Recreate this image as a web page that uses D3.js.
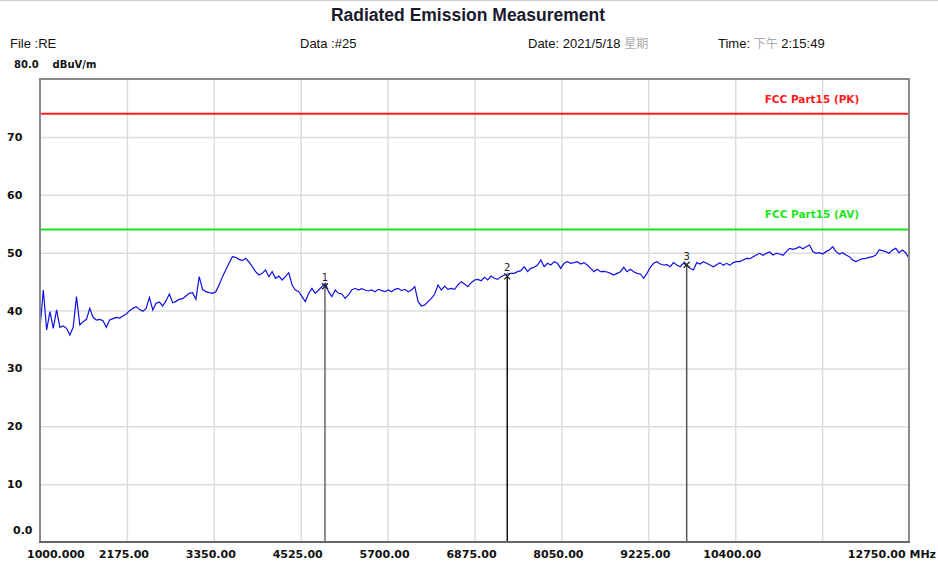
<!DOCTYPE html>
<html>
<head>
<meta charset="utf-8">
<script src="https://cdn.jsdelivr.net/npm/d3@7"></script>
<style>
  body { margin: 0; background: #fff; }
  svg { display: block; }
</style>
</head>
<body>
<div id="chart"></div>
<script>
// sweep range, MHz
var sweepStart = 1000, sweepStop = 12750;

var levels = [
  36.92, 43.54, 36.63, 39.80, 36.92, 40.09, 37.09, 37.32, 36.92, 35.77,
  37.09, 42.39, 37.49, 38.07, 38.47, 40.37, 38.82, 38.36, 38.47, 38.24,
  37.09, 38.36, 38.59, 38.82, 38.70, 39.05, 39.40, 39.97, 40.37, 40.66,
  40.20, 39.86, 40.37, 42.27, 40.09, 41.24, 41.47, 40.78, 41.70, 42.85,
  41.35, 41.58, 41.93, 42.04, 42.51, 42.97, 43.08, 41.93, 45.85, 43.66,
  43.25,
  43.08, 42.97, 43.25, 44.41, 45.85, 47.00, 48.15, 49.30, 49.19, 48.84,
  48.61, 49.01, 48.38, 47.57, 46.71, 46.13, 46.42, 47.00, 45.85, 46.71,
  45.56, 45.96, 45.27, 45.85, 46.54, 44.41, 43.54, 43.25, 42.39, 41.53,
  42.97, 43.83, 42.97, 43.54, 44.12, 44.69, 43.25, 42.39, 43.54, 42.97,
  42.85, 42.10, 42.68, 43.54, 43.83, 43.54, 43.77, 43.54, 43.37, 43.54,
  43.25, 43.66, 43.43, 43.25,
  43.54, 43.25, 43.66, 43.83, 43.43, 43.66, 43.25, 43.54, 44.12, 41.53,
  40.78, 40.95, 41.53, 42.10, 42.85, 44.41, 43.54, 44.23, 43.66, 43.83,
  43.66, 44.41, 44.98, 44.58, 44.12, 44.81, 45.27, 45.38, 45.15, 45.73,
  45.27, 45.96, 45.56, 45.38, 45.85, 46.13, 46.31, 46.42, 46.42, 46.71,
  46.88, 47.57, 46.71, 47.29, 47.46, 47.86, 48.73, 47.57, 48.15, 47.86,
  48.44, 48.15, 47.29,
  48.15, 48.44, 48.15, 48.27, 48.44, 48.03, 48.27, 47.86, 47.29, 46.71,
  47.11, 46.71, 46.77, 46.65, 46.42, 46.13, 46.42, 46.71, 47.46, 46.71,
  47.11, 46.71, 46.42, 46.31, 45.56, 46.42, 47.46, 48.15, 48.44, 48.03,
  47.86, 47.92, 47.57, 48.27, 47.86, 47.57, 48.15, 47.86, 47.29, 47.00,
  48.27, 48.03, 48.44, 48.15, 47.86, 47.57, 47.92, 48.27, 47.80, 48.15,
  47.80, 48.27, 48.44,
  48.44, 48.73, 49.01, 48.96, 49.30, 49.59, 49.88, 49.53, 49.88, 50.11,
  49.59, 49.88, 49.76, 49.53, 50.17, 50.74, 50.57, 50.74, 51.03, 50.68,
  51.03, 51.32, 50.17, 49.88, 49.99, 49.76, 50.17, 50.45, 51.03, 50.17,
  49.76, 49.99, 49.59, 49.30, 48.73, 48.44, 48.73, 48.96, 49.01, 49.19,
  49.30, 49.59, 50.45, 50.34, 50.17, 49.88, 50.45, 50.74, 49.99, 50.45,
  49.99, 49.01
];

// limit lines
var limitNames = ["FCC Part15 (PK)", "FCC Part15 (AV)"];
var limitValues = [74, 54];
var limitColors = ["#ff1a1a", "#19e619"];

// markers
var markerIds = ["1", "2", "3"];
var markerFreqs = [4853, 7318, 9744];
var markerLevels = [44.2, 45.9, 47.9];
var markerColors = ["#666", "#111", "#555"];

// axes
var xTicks = [1000, 2175, 3350, 4525, 5700, 6875, 8050, 9225, 10400, 11575, 12750];
var xTickLabels = ["1000.000", "2175.00", "3350.00", "4525.00", "5700.00", "6875.00",
                   "8050.00", "9225.00", "10400.00", "", "12750.00 MHz"];
var yTicks = [0, 10, 20, 30, 40, 50, 60, 70];
var yTickLabels = ["0.0", "10", "20", "30", "40", "50", "60", "70"];

var W = 938, H = 565;
var plot = {left: 40, right: 909, top: 79, bottom: 542};

var svg = d3.select("#chart").append("svg")
    .attr("width", W)
    .attr("height", H);

var x = d3.scaleLinear().domain([sweepStart, sweepStop]).range([plot.left, plot.right]);
var y = d3.scaleLinear().domain([0, 80]).range([plot.bottom, plot.top]);

var smallFont = "'DejaVu Sans', sans-serif";
var headFont = "'Liberation Sans', Arial, sans-serif";

// faint rule at the very top
svg.append("line")
    .attr("x1", 0).attr("x2", W).attr("y1", 0.5).attr("y2", 0.5)
    .attr("stroke", "#ccc");

// title + header row
svg.append("text")
    .attr("x", 468).attr("y", 21)
    .attr("text-anchor", "middle")
    .style("font-family", headFont)
    .style("font-size", "17.5px")
    .style("font-weight", "bold")
    .attr("fill", "#1a1a2e")
    .text("Radiated Emission Measurement");

var head = svg.append("g")
    .style("font-family", headFont)
    .style("font-size", "13px")
    .attr("fill", "#111");
head.append("text").attr("x", 10).attr("y", 48).text("File :RE");
head.append("text").attr("x", 300).attr("y", 48).text("Data :#25");
var dt = head.append("text").attr("x", 528).attr("y", 48);
dt.append("tspan").text("Date: 2021/5/18 ");
dt.append("tspan").attr("fill", "#aaa").style("font-family", "'Noto Sans CJK TC', sans-serif").style("font-size", "12px").text("星期");
var tm = head.append("text").attr("x", 718).attr("y", 48);
tm.append("tspan").text("Time: ");
tm.append("tspan").attr("fill", "#aaa").style("font-family", "'Noto Sans CJK TC', sans-serif").style("font-size", "12px").text("下午");
tm.append("tspan").text(" 2:15:49");

svg.append("text")
    .attr("x", 14).attr("y", 68)
    .style("font-family", smallFont)
    .style("font-size", "10px")
    .style("font-weight", "bold")
    .attr("fill", "#111")
    .attr("xml:space", "preserve")
    .text("80.0    dBuV/m");

// grid
svg.append("g")
    .attr("transform", "translate(0," + plot.bottom + ")")
    .call(d3.axisBottom(x).tickValues(xTicks.slice(1, -1)).tickSize(-(plot.bottom - plot.top)).tickFormat(""))
    .call(function(g) { g.select(".domain").remove(); })
    .selectAll("line").attr("stroke", "#dcdcdc").attr("stroke-width", 1.5);

svg.append("g")
    .attr("transform", "translate(" + plot.left + ",0)")
    .call(d3.axisLeft(y).tickValues(yTicks.slice(1)).tickSize(-(plot.right - plot.left)).tickFormat(""))
    .call(function(g) { g.select(".domain").remove(); })
    .selectAll("line").attr("stroke", "#dcdcdc").attr("stroke-width", 1.5);

// x tick labels
svg.append("g")
    .selectAll("text")
    .data(xTicks)
    .join("text")
    .attr("x", function(d, i) {
        if (i == 0) return 27;
        if (i == xTicks.length - 1) return 936;
        return x(d) - 3;
    })
    .attr("y", 558)
    .attr("text-anchor", function(d, i) {
        if (i == 0) return "start";
        if (i == xTicks.length - 1) return "end";
        return "middle";
    })
    .style("font-family", smallFont)
    .style("font-size", "11px")
    .style("font-weight", "bold")
    .attr("fill", "#111")
    .text(function(d, i) { return xTickLabels[i]; });

// y tick labels
svg.append("g")
    .selectAll("text")
    .data(yTicks)
    .join("text")
    .attr("x", function(d) { return d == 0 ? 13 : 7; })
    .attr("y", function(d) { return d == 0 ? y(d) - 8 : y(d) + 4; })
    .style("font-family", smallFont)
    .style("font-size", "11px")
    .style("font-weight", "bold")
    .attr("fill", "#111")
    .text(function(d, i) { return yTickLabels[i]; });

// limit lines
limitValues.forEach(function(v, i) {
    svg.append("line")
        .attr("x1", plot.left).attr("x2", plot.right)
        .attr("y1", y(v)).attr("y2", y(v))
        .attr("stroke", limitColors[i])
        .attr("stroke-width", 2);
    svg.append("text")
        .attr("x", 812).attr("y", y(v) - 11)
        .attr("text-anchor", "middle")
        .style("font-family", smallFont)
        .style("font-size", "10.5px")
        .style("font-weight", "bold")
        .attr("fill", limitColors[i])
        .text(limitNames[i]);
});

// trace
var step = (sweepStop - sweepStart) / (levels.length - 1);
var trace = levels.map(function(v, i) { return {f: sweepStart + i * step, v: v}; });

svg.append("path")
    .datum(trace)
    .attr("fill", "none")
    .attr("stroke", "#1010e0")
    .attr("stroke-width", 1.2)
    .attr("d", d3.line()
        .x(function(d) { return x(d.f); })
        .y(function(d) { return y(d.v); }));

// markers
markerFreqs.forEach(function(f, i) {
    var mx = x(f), my = y(markerLevels[i]);
    svg.append("line")
        .attr("x1", mx).attr("x2", mx)
        .attr("y1", my).attr("y2", plot.bottom)
        .attr("stroke", markerColors[i])
        .attr("stroke-width", 1.5);
    // small cross at the marker point
    svg.append("path")
        .attr("d", "M" + (mx - 3) + "," + (my - 3) + "L" + (mx + 3) + "," + (my + 3) +
                   "M" + (mx - 3) + "," + (my + 3) + "L" + (mx + 3) + "," + (my - 3))
        .attr("stroke", "#222")
        .attr("stroke-width", 1.3);
    svg.append("text")
        .attr("x", mx).attr("y", my - 5)
        .attr("text-anchor", "middle")
        .style("font-family", smallFont)
        .style("font-size", "10px")
        .attr("fill", "#222")
        .text(markerIds[i]);
});

// frame
svg.append("rect")
    .attr("x", plot.left).attr("y", plot.top)
    .attr("width", plot.right - plot.left)
    .attr("height", plot.bottom - plot.top)
    .attr("fill", "none")
    .attr("stroke", "#8a8a8a")
    .attr("stroke-width", 2);
svg.append("line")
    .attr("x1", plot.left - 1).attr("x2", plot.right + 1)
    .attr("y1", plot.bottom).attr("y2", plot.bottom)
    .attr("stroke", "#666")
    .attr("stroke-width", 2);
</script>
</body>
</html>
